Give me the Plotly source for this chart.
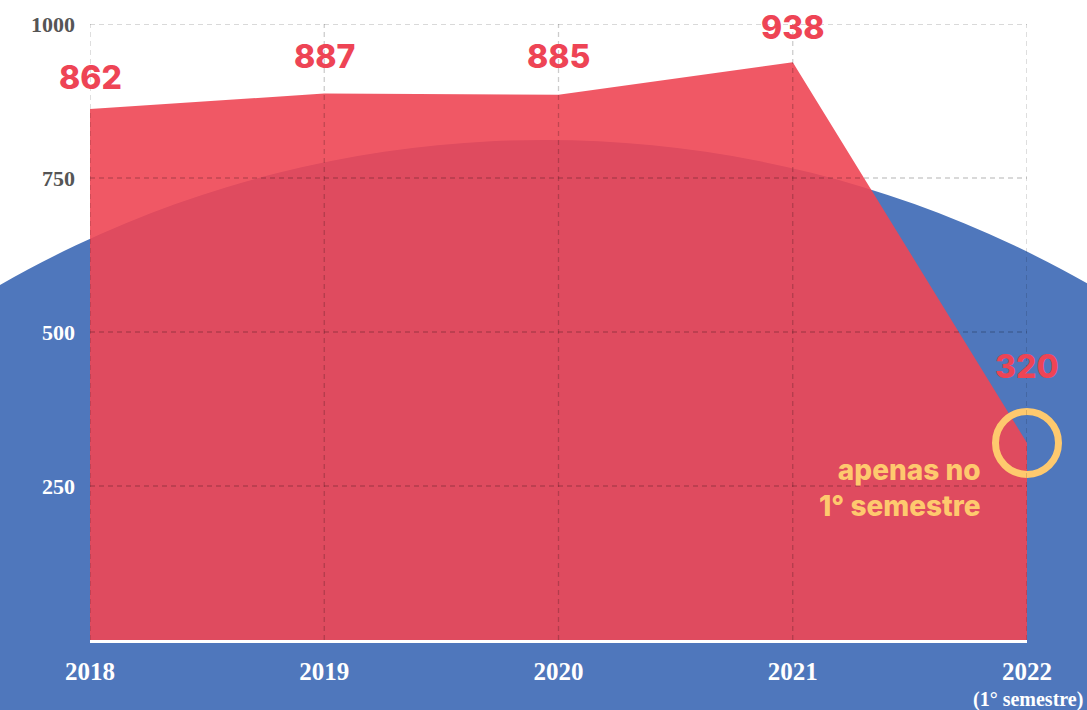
import plotly.graph_objects as go

# ---- data ----
years = [2018, 2019, 2020, 2021, 2022]
values = [862, 887, 885, 938, 320]
x_tick_labels = ["2018", "2019", "2020", "2021", "2022"]
last_tick_note = "(1° semestre)"
y_tick_vals = [250, 500, 750, 1000]
y_tick_colors = ["white", "white", "#555555", "#555555"]
note_text = "apenas no<br>1° semestre"

# ---- styles ----
RED_FILL = "rgba(238,70,84,0.9)"
LABEL_RED = "#EE4455"
BLUE = "#4F77BC"
YELLOW = "#FEC96E"
GRID = "rgba(0,0,0,0.2)"
NUM_FONT = "Inter"
SERIF = "Liberation Serif"
label_yshift = [32, 37, 38, 35, 76]

fig = go.Figure()

fig.add_trace(go.Scatter(
    x=years, y=values, mode="lines", fill="tozeroy",
    fillcolor=RED_FILL, line=dict(width=0, color=RED_FILL),
    hoverinfo="skip", showlegend=False,
))

# highlight ring on the last (partial-year) point
fig.add_trace(go.Scatter(
    x=[years[-1]], y=[values[-1]], mode="markers",
    marker=dict(symbol="circle-open", size=63, color=YELLOW,
                line=dict(width=7, color=YELLOW)),
    cliponaxis=False, hoverinfo="skip", showlegend=False,
))

shapes = []
# decorative blue circle behind the chart
shapes.append(dict(type="circle", xref="paper", yref="paper",
                   x0=-0.685, x1=1.656, y0=-2.75, y1=0.8117,
                   fillcolor=BLUE, line=dict(width=0), layer="below"))
# dashed grid drawn above the area
for v in y_tick_vals:
    shapes.append(dict(type="line", xref="x", yref="y",
                       x0=years[0], x1=years[-1], y0=v, y1=v,
                       line=dict(color=GRID, width=1.3, dash="5px,4px"),
                       layer="above"))
for yr in years:
    shapes.append(dict(type="line", xref="x", yref="y",
                       x0=yr, x1=yr, y0=0, y1=y_tick_vals[-1],
                       line=dict(color=GRID, width=1.3, dash="5px,4px"),
                       layer="above"))

annotations = []
for yr, v, dy in zip(years, values, label_yshift):
    annotations.append(dict(
        x=yr, y=v, xref="x", yref="y", text=str(v), showarrow=False,
        yanchor="middle", xanchor="center", yshift=dy,
        font=dict(family=NUM_FONT, size=32, color=LABEL_RED, weight=800),
    ))
annotations.append(dict(
    x=years[-1], y=values[-1], xref="x", yref="y", text=note_text,
    showarrow=False, xanchor="right", yanchor="middle", align="right",
    xshift=-44, yshift=-45,
    font=dict(family=NUM_FONT, size=28, color=YELLOW, weight=800),
))
annotations.append(dict(
    x=years[-1], y=0, xref="x", yref="paper", text=last_tick_note,
    showarrow=False, xanchor="right", yanchor="top", yshift=-46, xshift=58,
    font=dict(family=SERIF, size=20, color="white", weight="bold"),
))

y_tick_text = [f"<span style='color:{c}'>{v}</span>"
               for v, c in zip(y_tick_vals, y_tick_colors)]

fig.update_layout(
    width=1087, height=710,
    margin=dict(l=90, r=60, t=24, b=70, autoexpand=False),
    paper_bgcolor="white",
    plot_bgcolor="rgba(0,0,0,0)",
    shapes=shapes,
    annotations=annotations,
    showlegend=False,
    xaxis=dict(
        range=[years[0], years[-1]], tickvals=years, ticktext=x_tick_labels,
        showgrid=False, zeroline=False, showline=True, linecolor="white",
        linewidth=3, layer="above traces", ticks="", automargin=False,
        ticklabelstandoff=7,
        tickfont=dict(family=SERIF, size=25, color="white", weight="bold"),
    ),
    yaxis=dict(
        range=[0, 1000], tickvals=y_tick_vals, ticktext=y_tick_text,
        showgrid=False, zeroline=False, showline=False, ticks="",
        automargin=False, ticklabelstandoff=14,
        tickfont=dict(family=SERIF, size=22, color="#555555", weight="bold"),
    ),
)

fig.write_html("out.html", config={"displayModeBar": False},
               post_script="document.body.style.margin='0';")
